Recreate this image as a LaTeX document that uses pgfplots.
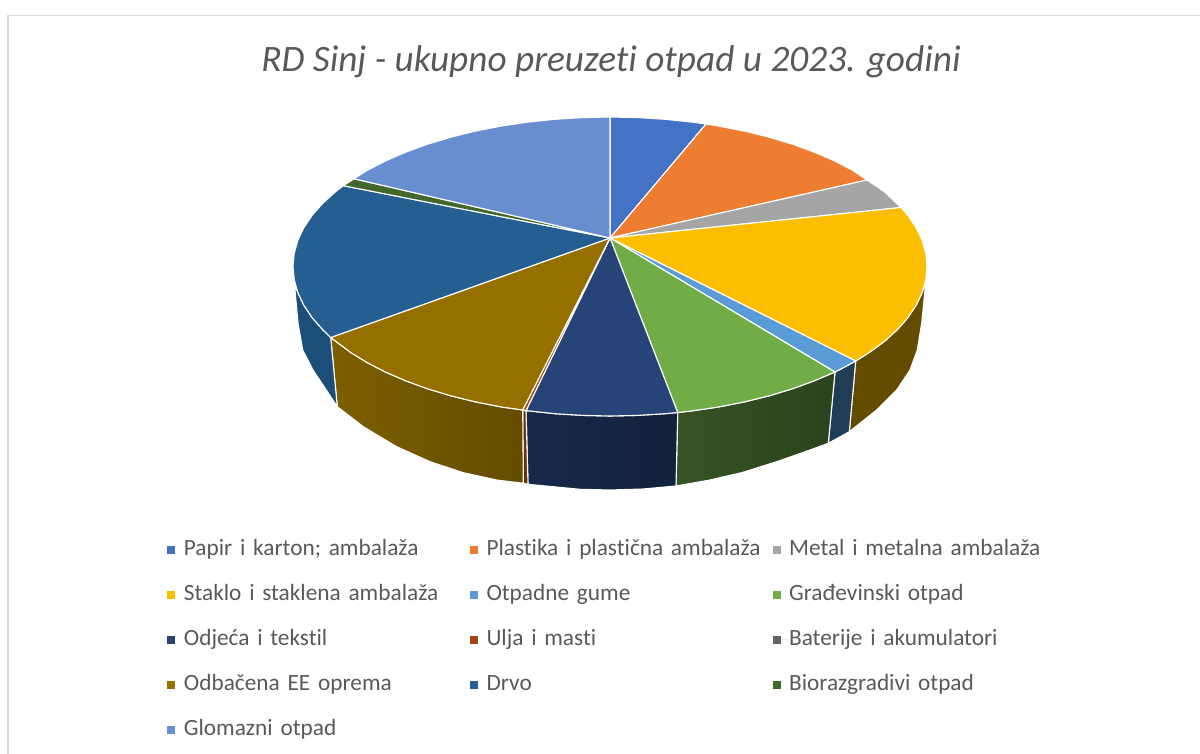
\documentclass[border=0pt]{standalone}
\usepackage{fontspec}
\setmainfont{Carlito}[RawFeature=-liga]
\usepackage{pgfplots}
\pgfplotsset{compat=1.18}
\definecolor{txt}{HTML}{595959}
\definecolor{c1}{HTML}{4472C4}
\definecolor{c2}{HTML}{ED7D31}
\definecolor{c3}{HTML}{A5A5A5}
\definecolor{c4}{HTML}{FBBE00}
\definecolor{c5}{HTML}{5B9BD5}
\definecolor{c6}{HTML}{70AD47}
\definecolor{c7}{HTML}{264478}
\definecolor{c8}{HTML}{9E480E}
\definecolor{c9}{HTML}{636363}
\definecolor{c10}{HTML}{957000}
\definecolor{c11}{HTML}{255E91}
\definecolor{c12}{HTML}{43682B}
\definecolor{c13}{HTML}{698ED0}
\begin{document}
\begin{tikzpicture}
\path[use as bounding box] (0,0) rectangle (1200pt,754pt);
\begin{axis}[
  at={(0,0)}, anchor=south west,
  scale only axis, width=1200pt, height=754pt,
  xmin=0, xmax=1200, ymin=0, ymax=754, y dir=reverse,
  hide axis, clip=false,
  title={\fontsize{37.3}{40}\selectfont\itshape RD Sinj - ukupno preuzeti otpad u 2023. godini},
  title style={at={(axis cs:611,68)}, anchor=center, text=txt, inner sep=0pt},
  legend columns=3,
  legend cell align=left,
  legend image code/.code={\path (0pt,0pt) -- (16pt,0pt);\fill[#1, draw=none] (0pt,-4pt) rectangle (8pt,4pt);},
  legend style={
    at={(axis cs:166.8,539)}, anchor=north west,
    draw=none, fill=none, inner sep=0pt, outer sep=0pt,
    font=\fontsize{23.3}{25}\selectfont, text=txt,
    row sep=24pt,
    nodes={inner sep=0pt, text height=16pt, text depth=5pt, text width=285.5pt, align=left},
  },
  every axis plot/.append style={line width=1.1pt, line join=round},
]
% chart frame
\addplot[forget plot, draw=black!15, line width=2pt] coordinates {(8,754)(8,15)};
\addplot[forget plot, draw=black!15, line width=1.3pt] coordinates {(7,15.5)(1200,15.5)};

% side walls
\addplot[forget plot, draw=white, fill={rgb,255:red,99;green,76;blue,0}] coordinates {
 (926.5,280)(925,290)(921.7,323)(917.3,350)(910,370)(896.7,390)(876.7,410)(849.3,431.7)(855.7,361)
 (869.7,352.2)(884.5,341.3)(897.3,329.7)(907.9,317.6)(916.2,305.2)(922.2,292.5)} -- cycle;
\addplot[forget plot, draw=white, fill={rgb,255:red,33;green,61;blue,86}] coordinates {
 (855.7,361)(849.3,431.7)(828.3,443.3)(835,372)(845.6,366.5)} -- cycle;
\addplot[forget plot, draw=white, left color={rgb,255:red,54;green,84;blue,36}, right color={rgb,255:red,43;green,67;blue,28}] coordinates {
 (835,372)(828.3,443.3)(810,450)(776.7,461.7)(743,472.3)(710,480)(676,486)(677.7,412.5)
 (692,410.9)(718.4,407)(744,402)(768.5,396)(791.8,389)(813.8,381)} -- cycle;
\addplot[forget plot, draw=white, left color={rgb,255:red,23;green,41;blue,75}, right color={rgb,255:red,18;green,33;blue,60}] coordinates {
 (677.7,412.5)(676,486)(643,489)(610,490)(580,489.3)(528,484.3)(526,410.6)
 (555,413.7)(582.4,415.4)(610,416)(637.6,415.4)(665,413.7)} -- cycle;
\addplot[forget plot, draw=white, fill={rgb,255:red,110;green,50;blue,10}] coordinates {
 (526,410.6)(528,484.3)(523.3,483.3)(522.7,410)} -- cycle;
\addplot[forget plot, draw=white, left color={rgb,255:red,125;green,94;blue,0}, right color={rgb,255:red,100;green,76;blue,0}] coordinates {
 (522.7,410)(523.3,483.3)(496.7,480)(463.3,472.7)(430,461.7)(396.7,446.7)(363.3,426.7)(337.3,406.7)(330.7,337.5)
 (350.3,352.2)(367.2,362.6)(385.8,372.2)(406.2,381)(428.2,389)(451.5,396)(476,402)(501.6,407)} -- cycle;
\addplot[forget plot, draw=white, fill={rgb,255:red,28;green,78;blue,122}] coordinates {
 (330.7,337.5)(337.3,406.7)(313,370)(302.7,350)(298,323)(295,290)(294,284)
 (297.8,292.5)(303.8,305.2)(312.1,317.6)(322.7,329.7)} -- cycle;

% top faces
\addplot[fill=c1, draw=white] coordinates {
 (610,238)(610,117)(637.6,117.6)(665,119.3)(692,122.1)(706,124)} -- cycle;
\addlegendentry{Papir i karton; ambalaža}
\addplot[fill=c2, draw=white] coordinates {
 (610,238)(706,124)(718.4,126)(744,131)(768.5,137)(791.8,144)(813.8,152)(834.2,160.8)(852.8,170.4)(867,180)} -- cycle;
\addlegendentry{Plastika i plastična ambalaža}
\addplot[fill=c3, draw=white] coordinates {
 (610,238)(867,180)(884.5,191.8)(901,207.5)} -- cycle;
\addlegendentry{Metal i metalna ambalaža}
\addplot[fill=c4, draw=white] coordinates {
 (610,238)(901,207.5)(907.9,215.4)(916.2,227.8)(922.2,240.5)(925.8,253.5)(927,266.5)(925.8,279.5)(922.2,292.5)(916.2,305.2)(907.9,317.6)(897.3,329.7)(884.5,341.3)(869.7,352.2)(855.7,361)} -- cycle;
\addlegendentry{Staklo i staklena ambalaža}
\addplot[fill=c5, draw=white] coordinates {
 (610,238)(855.7,361)(845.6,366.5)(835,372)} -- cycle;
\addlegendentry{Otpadne gume}
\addplot[fill=c6, draw=white] coordinates {
 (610,238)(835,372)(813.8,381)(791.8,389)(768.5,396)(744,402)(718.4,407)(692,410.9)(677.7,412.5)} -- cycle;
\addlegendentry{Građevinski otpad}
\addplot[fill=c7, draw=white] coordinates {
 (610,238)(677.7,412.5)(665,413.7)(637.6,415.4)(610,416)(582.4,415.4)(555,413.7)(526,410.6)} -- cycle;
\addlegendentry{Odjeća i tekstil}
\addplot[fill=c8, draw=white] coordinates {
 (610,238)(526,410.6)(522.7,410)} -- cycle;
\addlegendentry{Ulja i masti}
\addplot[fill=c9, draw=none] coordinates {
 (610,238)(522.7,410)(522.7,410)} -- cycle;
\addlegendentry{Baterije i akumulatori}
\addplot[fill=c10, draw=white] coordinates {
 (610,238)(522.7,410)(501.6,407)(476,402)(451.5,396)(428.2,389)(406.2,381)(385.8,372.2)(367.2,362.6)(350.3,352.2)(330.7,337.5)} -- cycle;
\addlegendentry{Odbačena EE oprema}
\addplot[fill=c11, draw=white] coordinates {
 (610,238)(330.7,337.5)(322.7,329.7)(312.1,317.6)(303.8,305.2)(297.8,292.5)(294.2,279.5)(293,266.5)(294.2,253.5)(297.8,240.5)(303.8,227.8)(312.1,215.4)(322.7,203.3)(335.5,191.8)(343.3,185.7)} -- cycle;
\addlegendentry{Drvo}
\addplot[fill=c12, draw=white] coordinates {
 (610,238)(343.3,185.7)(354,178.8)} -- cycle;
\addlegendentry{Biorazgradivi otpad}
\addplot[fill=c13, draw=white] coordinates {
 (610,238)(354,178.8)(367.2,170.4)(385.8,160.8)(406.2,152)(428.2,144)(451.5,137)(476,131)(501.6,126)(528,122.1)(555,119.3)(582.4,117.6)(610,117)} -- cycle;
\addlegendentry{Glomazni otpad}
\end{axis}
\end{tikzpicture}
\end{document}
